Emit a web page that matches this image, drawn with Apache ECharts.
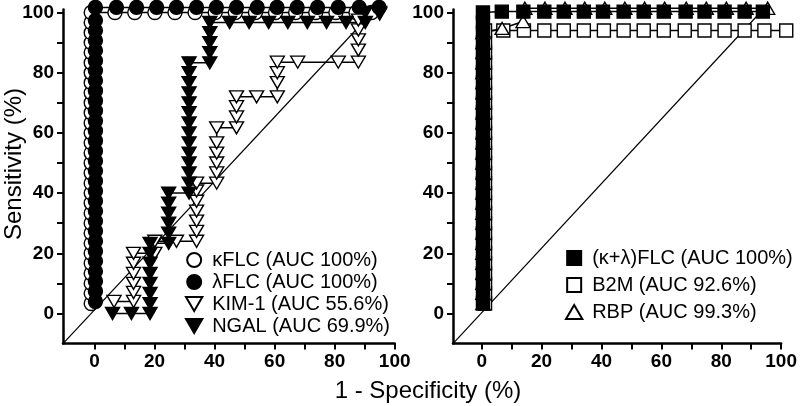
<!DOCTYPE html>
<html><head><meta charset="utf-8">
<script src="https://cdn.jsdelivr.net/npm/echarts@6/dist/echarts.min.js"></script>
<style>html,body{margin:0;padding:0;background:#fff}#c{width:800px;height:406px}</style>
</head><body><div id="c"></div>
<script>
// ---- tick values ----
const tickLabels = [0, 20, 40, 60, 80, 100];
const tickMarks = [0, 10, 20, 30, 40, 50, 60, 70, 80, 90, 100];

// ---- left panel ----
const kflcX = [-1.1,-1.1,-1.1,-1.1,-1.1,-1.1,-1.1,-1.1,-1.1,-1.1,-1.1,-1.1,-1.1,-1.1,-1.1,-1.1,-1.1,-1.1,-1.1,-1.1,-1.1,-1.1,-1.1,-1.1,-1.1,-1.1,-1.1,-1.1,-1.1,-1.1,
  6.8,13.4,20.1,26.8,33.5,40.2,46.9,53.6,60.3,67,73.7,80.4,87.1,92.3];
const kflcY = [3.3,6.7,10,13.3,16.7,20,23.3,26.7,30,33.3,36.7,40,43.3,46.7,50,53.3,56.7,60,63.3,66.7,70,73.3,76.7,80,83.3,86.7,90,93.3,96.7,100,
  100,100,100,100,100,100,100,100,100,100,100,100,100,100];
const lflcX = [0.3,0.3,0.3,0.3,0.3,0.3,0.3,0.3,0.3,0.3,0.3,0.3,0.3,0.3,0.3,0.3,0.3,0.3,0.3,0.3,0.3,0.3,0.3,0.3,0.3,0.3,0.3,0.3,0.3,0.3,
  7.3,14,20.7,27.3,34,40.6,47.3,54.2,60.8,67.5,74.3,81.2,88.2,94.8];
const lflcY = [4,7.4,10.7,14,17.4,20.7,24,27.4,30.7,34,37.4,40.7,44,47.4,50.7,54,57.4,60.7,64,67.4,70.7,74,77.4,80.7,84,87.4,90.7,94,97.4,101.7,
  101.7,101.7,101.7,101.7,101.7,101.7,101.7,101.7,101.7,101.7,101.7,101.7,101.7,101.7];
const kimX = [6.5,13,13,13,13,13,13,20.1,20.1,27.3,34,34,34,34,34,34,34,40.7,40.7,40.7,40.7,40.7,40.7,47.3,47.3,47.3,47.3,54,60.9,60.9,60.9,60.9,67.7,81.2,87.9,87.9,87.9,87.9,87.9,95];
const kimY = [4,4,7,10,13.3,16.7,20,20,24,24,24,27.3,30.7,34,37.3,40.7,43.3,43.3,46.7,50,53.3,56.7,61.7,61.7,65.3,68.7,72,72,72,76.7,80,83.5,83.5,83.5,83.5,87.5,90.9,94.2,97.5,99.5];
const ngalX = [6,12.3,18.5,18.5,18.5,18.5,18.5,18.5,18.5,18.5,24.7,24.7,24.7,24.7,24.7,24.7,
  31.5,31.5,31.5,31.5,31.5,31.5,31.5,31.5,31.5,31.5,31.5,31.5,31.5,31.5,38.4,38.4,38.4,38.4,38.4,
  45,51.5,58,64.4,70.9,77.3,83.8,90.2,90.2,95];
const ngalY = [0,0,0,3.3,6.7,10,13.3,16.7,20,23.3,23.3,26.7,30,33.3,36.7,40,
  40,43.3,46.7,50,53.3,56.7,60,63.3,66.7,70,73.3,76.7,80,83.3,83.3,86.7,90,93.3,96.7,
  96.7,96.7,96.7,96.7,96.7,96.7,96.7,96.7,100,100];
const diagLX = [-10.5, 92.5];
const diagLY = [-10, 100];

// ---- right panel ----
const klX = [0.4,0.4,0.4,0.4,0.4,0.4,0.4,0.4,0.4,0.4,0.4,0.4,0.4,0.4,0.4,0.4,0.4,0.4,0.4,0.4,0.4,0.4,0.4,0.4,0.4,0.4,0.4,0.4,0.4,0.4,
  6.7,13.9,20.9,27.4,34.1,40.5,47.4,54.1,60.8,68.1,74.4,81.1,87.8,93.9];
const klY = [3.3,6.7,10,13.3,16.7,20,23.3,26.7,30,33.3,36.7,40,43.3,46.7,50,53.3,56.7,60,63.3,66.7,70,73.3,76.7,80,83.3,86.7,90,93.3,96.7,100,
  100.3,100.3,100.3,100.3,100.3,100.3,100.3,100.3,100.3,100.3,100.3,100.3,100.3,100.3];
const b2mX = [1.1,1.1,1.1,1.1,1.1,1.1,1.1,1.1,1.1,1.1,1.1,1.1,1.1,1.1,1.1,1.1,1.1,1.1,1.1,1.1,1.1,1.1,1.1,1.1,1.1,1.1,1.1,1.1,
  7.2,14.1,20.9,27.4,34.1,40.8,47.4,54.1,60.8,67.8,74.4,81.1,87.8,94.4,101.7];
const b2mY = [3.3,6.7,10,13.3,16.7,20,23.3,26.7,30,33.3,36.7,40,43.3,46.7,50,53.3,56.7,60,63.3,66.7,70,73.3,76.7,80,83.3,86.7,90,94,
  94,94,94,94,94,94,94,94,94,94,94,94,94,94,94];
const rbpX = [0.4,0.4,0.4,0.4,0.4,0.4,0.4,0.4,0.4,0.4,0.4,0.4,0.4,0.4,0.4,0.4,0.4,0.4,0.4,0.4,0.4,0.4,0.4,0.4,0.4,0.4,0.4,0.4,
  6.8,13.8,14.4,21.1,27.8,34.4,41.1,47.8,54.4,61.1,68.3,75,81.7,88.3,95.5];
const rbpY = [3.3,6.7,10,13.3,16.7,20,23.3,26.7,30,33.3,36.7,40,43.3,46.7,50,53.3,56.7,60,63.3,66.7,70,73.3,76.7,80,83.3,86.7,90,93.3,
  94.7,97,101.4,101.4,101.4,101.4,101.4,101.4,101.4,101.4,101.4,101.4,101.4,101.4,101.4];
const diagRX = [-9.6, 93];
const diagRY = [-10, 100];

const names = ['κFLC (AUC 100%)', 'λFLC (AUC 100%)', 'KIM-1 (AUC 55.6%)', 'NGAL (AUC 69.9%)',
               '(κ+λ)FLC (AUC 100%)', 'B2M (AUC 92.6%)', 'RBP (AUC 99.3%)'];

const FONT = '"Liberation Sans", Arial, Helvetica, sans-serif';
const DOWN = 'path://M0,0L14,0L7,12Z';
const UP = 'path://M7,0L14,12L0,12Z';
const SQ = 'path://M0,0L10,0L10,10L0,10Z';
const pairs = (xs, ys) => xs.map((x, i) => [x, ys[i]]);

function mkX(gi, min) {
  return { gridIndex: gi, type: 'value', min: min, max: 100,
    axisLine: { show: true, onZero: false, lineStyle: { color: '#000', width: 2.5 } },
    axisTick: { show: true, length: 6, customValues: tickMarks, lineStyle: { color: '#000', width: 2 } },
    axisLabel: { customValues: tickLabels, margin: 9, color: '#000', fontSize: 19, fontWeight: 'bold', fontFamily: FONT },
    splitLine: { show: false } };
}
function mkY(gi) {
  return { gridIndex: gi, type: 'value', min: -10, max: 101,
    axisLine: { show: true, onZero: false, lineStyle: { color: '#000', width: 2.5 } },
    axisTick: { show: true, length: 6, customValues: tickMarks, lineStyle: { color: '#000', width: 2 } },
    axisLabel: { customValues: tickLabels, margin: 9, color: '#000', fontSize: 19, fontWeight: 'bold', fontFamily: FONT },
    splitLine: { show: false } };
}
function line(gi, xs, ys, w) {
  return { type: 'line', xAxisIndex: gi, yAxisIndex: gi, data: pairs(xs, ys), showSymbol: false, symbol: 'none',
    lineStyle: { color: '#000', width: w }, silent: true, z: 2, clip: false, animation: false };
}
function pts(gi, name, xs, ys, symbol, size, filled) {
  return { type: 'scatter', name: name, xAxisIndex: gi, yAxisIndex: gi, data: pairs(xs, ys),
    symbol: symbol, symbolSize: size, clip: false, silent: true, z: 3,
    itemStyle: { color: filled ? '#000' : '#fff', borderColor: '#000', borderWidth: 1.4, opacity: 1 } };
}

const option = {
  animation: false,
  backgroundColor: '#fff',
  grid: [
    { left: 63, right: 405.3, top: 9.5, bottom: 62.4 },
    { left: 453, right: 18.2, top: 9.5, bottom: 62.4 }
  ],
  xAxis: [mkX(0, -10.5), mkX(1, -9.6)],
  yAxis: [mkY(0), mkY(1)],
  legend: [
    { orient: 'vertical', left: 180, top: 245, itemWidth: 26, itemHeight: 14, itemGap: 2, selectedMode: false,
      textStyle: { fontSize: 20, fontFamily: FONT, color: '#000', lineHeight: 20 },
      data: names.slice(0, 4) },
    { orient: 'vertical', left: 560, top: 243, itemWidth: 26, itemHeight: 14, itemGap: 7, selectedMode: false,
      textStyle: { fontSize: 20, fontFamily: FONT, color: '#000', lineHeight: 20 },
      data: names.slice(4) }
  ],
  graphic: [
    { type: 'text', x: 428, y: 391, style: { text: '1 - Specificity (%)', fontSize: 24, fontFamily: FONT, fill: '#000', align: 'center', verticalAlign: 'middle' } },
    { type: 'text', x: 14, y: 164, rotation: Math.PI / 2, style: { text: 'Sensitivity (%)', fontSize: 24, fontFamily: FONT, fill: '#000', align: 'center', verticalAlign: 'middle' } }
  ],
  series: [
    line(0, diagLX, diagLY, 1.2),
    line(0, kflcX, kflcY, 1.5),
    line(0, lflcX, lflcY, 1.5),
    line(0, kimX, kimY, 1.5),
    line(0, ngalX, ngalY, 1.5),
    pts(0, names[0], kflcX, kflcY, 'circle', 14, false),
    pts(0, names[1], lflcX, lflcY, 'circle', 14, true),
    pts(0, names[2], kimX, kimY, DOWN, [14, 12], false),
    pts(0, names[3], ngalX, ngalY, DOWN, [14, 12], true),
    line(1, diagRX, diagRY, 1.2),
    line(1, b2mX, b2mY, 1.5),
    line(1, rbpX, rbpY, 1.5),
    line(1, klX, klY, 1.5),
    pts(1, names[5], b2mX, b2mY, SQ, 13, false),
    pts(1, names[6], rbpX, rbpY, UP, [14, 12], false),
    pts(1, names[4], klX, klY, SQ, 13, true)
  ]
};
echarts.init(document.getElementById('c'), null, { renderer: 'canvas' }).setOption(option);
</script></body></html>
